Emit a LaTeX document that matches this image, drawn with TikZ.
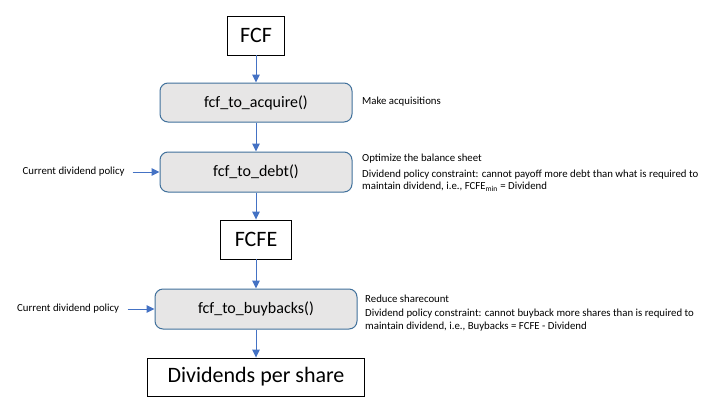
\documentclass[tikz,border=0pt]{standalone}
\usepackage{fontspec}
\setmainfont{Carlito}
\usetikzlibrary{arrows.meta}
\definecolor{boxfill}{HTML}{E7E6E6}
\definecolor{boxline}{HTML}{41719C}
\definecolor{arrowblue}{HTML}{4472C4}
\tikzset{
  funcbox/.style={draw=boxline, fill=boxfill, rounded corners=8pt, line width=1pt,
    minimum width=192pt, minimum height=39pt, inner sep=0pt, font=\fontsize{16}{19}\selectfont},
  termbox/.style={draw=black, line width=0.9pt, inner sep=0pt, fill=white,
    minimum height=39pt, font=\fontsize{22}{26}\selectfont},
  flow/.style={draw=arrowblue, line width=1pt, -{Triangle[length=8pt,width=7.5pt]}},
  note/.style={font=\fontsize{10.8}{12.5}\selectfont, anchor=west, inner sep=0pt, align=left},
  sidenote/.style={font=\fontsize{10.8}{13}\selectfont, anchor=west, inner sep=0pt},
}
\begin{document}
\begin{tikzpicture}[x=1pt,y=-1pt]
\useasboundingbox[fill=white] (0,0) rectangle (714,418);

\node[termbox, minimum width=57pt] (fcf) at (256,35.5) {FCF};
\node[funcbox] (acquire) at (256,102.5) {fcf\_to\_acquire()};
\node[funcbox, minimum height=40pt] (debt) at (256,172) {fcf\_to\_debt()};
\node[termbox, minimum width=71pt] (fcfe) at (256,239.5) {FCFE};
\node[funcbox, minimum width=202pt, minimum height=40pt] (buy) at (256,309) {fcf\_to\_buybacks()};
\node[termbox, minimum width=217pt, minimum height=38pt] (dps) at (256,377) {Dividends per share};

\draw[flow] (fcf) -- (acquire);
\draw[flow] (acquire) -- (debt);
\draw[flow] (debt) -- (fcfe);
\draw[flow] (fcfe) -- (buy);
\draw[flow] (buy) -- (dps);

\node[sidenote] (cdp1) at (22.5,172) {Current dividend policy};
\node[sidenote] (cdp2) at (17,309) {Current dividend policy};
\coordinate (s1) at (132.5,172);
\coordinate (s2) at (127.5,309);
\draw[flow] (s1) -- (debt.west);
\draw[flow] (s2) -- (buy.west);

\node[note] (n1) at (362,101.5) {Make acquisitions};
\node[note] (n2) at (362,159) {Optimize the balance sheet};
\node[note] (n3) at (362,180.5) {Dividend policy constraint: cannot payoff more debt than what is required to\\maintain dividend, i.e., FCFE\textsubscript{min} = Dividend};
\node[note] (n4) at (365,298.5) {Reduce sharecount};
\node[note] (n5) at (365,320) {Dividend policy constraint: cannot buyback more shares than is required to\\maintain dividend, i.e., Buybacks = FCFE - Dividend};
\end{tikzpicture}
\end{document}
